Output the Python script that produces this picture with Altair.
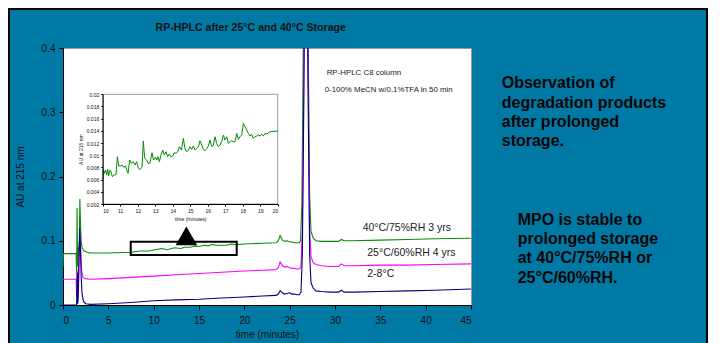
import altair as alt
import pandas as pd

# ---------------- data ----------------
series_names = ["40°C/75%RH 3 yrs", "25°C/60%RH 4 yrs", "2-8°C"]
series_colors = ["#0a8a0a", "#ff00ff", "#000080"]

green_t = [0, 0.05, 1.45, 1.5, 1.55, 1.6, 1.65, 1.7, 1.8, 1.86, 1.92, 2.0, 2.1, 2.25, 2.5, 3, 5, 7.5, 8.5, 9.5,
           10, 10.9, 11.5, 12.3, 13, 13.4, 14, 14.6, 15, 15.6, 16, 16.4, 17, 18, 18.6, 19, 20, 22, 23.5, 23.75,
           23.95, 24.2, 24.45, 24.7, 25.0, 25.25, 25.5, 25.8, 26.05, 26.2, 26.35, 26.5, 26.7, 26.9, 27.05, 27.2,
           27.35, 27.6, 27.9, 28.5, 29.5, 30.4, 30.7, 31.0, 32, 35, 38, 41, 45]
green_au = [0.06, 0.08, 0.08, 0.05, 0.151, 0.06, 0.09, 0.075, 0.1, 0.165, 0.13, 0.1, 0.09, 0.085, 0.083, 0.081,
            0.081, 0.082, 0.084, 0.084, 0.0856, 0.088, 0.086, 0.089, 0.088, 0.09, 0.09, 0.092, 0.091, 0.093,
            0.092, 0.094, 0.093, 0.093, 0.095, 0.094, 0.095, 0.096, 0.097, 0.1, 0.108, 0.101, 0.099, 0.1, 0.098,
            0.098, 0.097, 0.097, 0.097, 0.1, 0.16, 0.4, 0.6, 0.6, 0.4, 0.17, 0.115, 0.104, 0.1, 0.099, 0.099,
            0.099, 0.102, 0.1, 0.1, 0.101, 0.102, 0.103, 0.104]

magenta_t = [0, 1.45, 1.5, 1.55, 1.6, 1.65, 1.7, 1.78, 1.88, 1.95, 2.05, 2.2, 2.5, 3, 5, 7.5, 10, 12.5, 15, 17.5,
             20, 22, 23.5, 23.75, 23.95, 24.2, 24.45, 24.7, 25.0, 25.25, 25.5, 25.8, 26.05, 26.25, 26.4, 26.55,
             26.7, 26.9, 27.05, 27.2, 27.35, 27.6, 27.9, 28.5, 29.5, 30.4, 30.7, 31.0, 32, 35, 38, 41, 45]
magenta_au = [0.04, 0.04, 0.012, 0.055, 0.014, 0.05, 0.02, 0.07, 0.11, 0.085, 0.055, 0.043, 0.041, 0.04, 0.041,
              0.043, 0.045, 0.047, 0.049, 0.051, 0.053, 0.054, 0.055, 0.058, 0.067, 0.061, 0.059, 0.06, 0.058,
              0.057, 0.057, 0.056, 0.056, 0.06, 0.12, 0.34, 0.6, 0.6, 0.34, 0.12, 0.075, 0.066, 0.063, 0.061,
              0.06, 0.06, 0.064, 0.061, 0.061, 0.062, 0.062, 0.063, 0.064]

blue_t = [0, 1.5, 1.58, 1.63, 1.68, 1.75, 1.85, 1.92, 2.0, 2.1, 2.25, 2.5, 3, 5, 7.5, 10, 12.5, 15, 17.5, 20,
          22, 23.5, 23.75, 23.95, 24.2, 24.45, 24.7, 25.0, 25.25, 25.5, 25.8, 26.05, 26.25, 26.4, 26.55, 26.7,
          26.9, 27.05, 27.2, 27.35, 27.6, 27.9, 28.5, 29.5, 30.4, 30.7, 31.0, 32, 35, 38, 41, 45]
blue_au = [0, 0, 0.05, 0.002, 0.01, 0.07, 0.12, 0.09, 0.045, 0.018, 0.006, 0.002, 0.001, 0.002, 0.004, 0.0065,
           0.008, 0.009, 0.011, 0.0125, 0.014, 0.015, 0.017, 0.022, 0.019, 0.017, 0.018, 0.019, 0.017, 0.017,
           0.016, 0.016, 0.02, 0.08, 0.3, 0.6, 0.6, 0.3, 0.08, 0.035, 0.026, 0.022, 0.021, 0.02, 0.02, 0.023,
           0.02, 0.02, 0.021, 0.022, 0.023, 0.025]

# inset: 40°C/75%RH trace, 10-20 min
inset_t = [10.00, 10.04, 10.11, 10.17, 10.23, 10.29, 10.34, 10.42, 10.48, 10.55,
           10.65, 10.76, 10.84, 10.91, 11.03, 11.12, 11.20, 11.30, 11.37, 11.45,
           11.54, 11.64, 11.75, 11.85, 11.94, 12.04, 12.13, 12.25, 12.32, 12.40,
           12.51, 12.63, 12.70, 12.82, 12.90, 13.01, 13.09, 13.16, 13.24, 13.33,
           13.43, 13.52, 13.62, 13.71, 13.81, 13.90, 14.00, 14.10, 14.19, 14.29,
           14.38, 14.50, 14.61, 14.70, 14.80, 14.90, 14.99, 15.09, 15.18, 15.28,
           15.37, 15.47, 15.56, 15.66, 15.75, 15.85, 15.94, 16.04, 16.13, 16.23,
           16.32, 16.42, 16.51, 16.61, 16.70, 16.80, 16.90, 16.99, 17.09, 17.18,
           17.28, 17.37, 17.47, 17.56, 17.66, 17.75, 17.85, 17.94, 18.04, 18.13,
           18.23, 18.32, 18.42, 18.51, 18.61, 18.70, 18.80, 18.90, 18.99, 19.09,
           19.18, 19.28, 19.37, 19.47, 19.56, 20.00]
inset_au = [0.00604, 0.00768, 0.00703, 0.00757, 0.00675, 0.00768, 0.00664, 0.00757, 0.00730, 0.00648,
            0.00675, 0.00686, 0.00976, 0.00823, 0.00823, 0.00839, 0.00801, 0.00828, 0.00757, 0.00703,
            0.00921, 0.00867, 0.00894, 0.00839, 0.00894, 0.00785, 0.00768, 0.00801, 0.01233, 0.00949,
            0.00921, 0.00856, 0.00878, 0.01041, 0.00921, 0.00965, 0.00921, 0.00976, 0.00894, 0.01003,
            0.01085, 0.01003, 0.01058, 0.00976, 0.01020, 0.00976, 0.00987, 0.01041, 0.01031, 0.01058,
            0.01140, 0.01085, 0.01276, 0.01112, 0.01058, 0.01085, 0.01140, 0.01096, 0.01151, 0.01085,
            0.01112, 0.01140, 0.01238, 0.01167, 0.01096, 0.01074, 0.01107, 0.01151, 0.01249, 0.01140,
            0.01162, 0.01304, 0.01194, 0.01140, 0.01167, 0.01222, 0.01331, 0.01249, 0.01304, 0.01194,
            0.01222, 0.01238, 0.01222, 0.01222, 0.01358, 0.01260, 0.01304, 0.01331, 0.01522, 0.01468,
            0.01413, 0.01358, 0.01315, 0.01347, 0.01276, 0.01304, 0.01315, 0.01331, 0.01315, 0.01347,
            0.01315, 0.01358, 0.01347, 0.01369, 0.01386, 0.01397]

x_ticks = [0, 5, 10, 15, 20, 25, 30, 35, 40, 45]
y_ticks = [0, 0.05, 0.1, 0.15, 0.2, 0.25, 0.3, 0.35, 0.4]
inset_x_ticks = [10, 11, 12, 13, 14, 15, 16, 17, 18, 19, 20]
inset_y_ticks = [0.002, 0.004, 0.006, 0.008, 0.01, 0.012, 0.014, 0.016, 0.018, 0.02]

title_text = "RP-HPLC after 25°C and 40°C Storage"
method_lines = ["RP-HPLC C8 column", "0-100% MeCN w/0.1%TFA in 50 min"]
note1 = ["Observation of", "degradation products", "after prolonged", "storage."]
note2 = ["MPO is stable to", "prolonged storage", "at 40°C/75%RH or", "25°C/60%RH."]

# ---------------- tables ----------------
rows = []
for name, ts, vs in zip(series_names, [green_t, magenta_t, blue_t], [green_au, magenta_au, blue_au]):
    for t, v in zip(ts, vs):
        rows.append({"series": name, "time": t, "au": v})
traces = pd.DataFrame(rows)
inset_df = pd.DataFrame({"t": inset_t, "au": inset_au})
one = pd.DataFrame({"k": [0]})   # single row for annotations

FONT = "Liberation Sans"
W, H = 408, 257

xs = alt.Scale(domain=[0, 45], nice=False, zero=False)
ys = alt.Scale(domain=[0, 0.4], nice=False, zero=False)

x_axis = alt.Axis(values=x_ticks, title="time (minutes)", labelPadding=6, titlePadding=4,
                  tickSize=4, labelFontSize=10, titleFontSize=10)
y_axis = alt.Axis(values=y_ticks, format="~g", title="AU at 215 nm", labelPadding=4, titlePadding=16,
                  tickSize=4, labelFontSize=10, titleFontSize=10)

lines = alt.Chart(traces).mark_line(clip=True, strokeWidth=1.1).encode(
    x=alt.X("time:Q", scale=xs, axis=x_axis),
    y=alt.Y("au:Q", scale=ys, axis=y_axis),
    color=alt.Color("series:N", scale=alt.Scale(domain=series_names, range=series_colors), legend=None),
)

base = alt.Chart(one)

box = base.mark_rect(filled=False, stroke="black", strokeWidth=2).encode(
    x=alt.datum(7.47, scale=xs), x2=alt.datum(19.16),
    y=alt.datum(0.0778, scale=ys), y2=alt.datum(0.0985),
)
arrow = base.mark_point(shape="triangle-up", filled=True, color="black", size=470, opacity=1).encode(
    x=alt.datum(13.61, scale=xs), y=alt.datum(0.1075, scale=ys),
)

label_layers = []
for txt, t, v in zip(series_names, [33.05, 33.56, 33.56], [0.1198, 0.0805, 0.0482]):
    label_layers.append(
        base.mark_text(align="left", baseline="middle", font=FONT, fontSize=10.5, color="#222").encode(
            x=alt.datum(t, scale=xs), y=alt.datum(v, scale=ys), text=alt.value(txt)))
for txt, t, v in zip(method_lines, [29.08, 28.86], [0.361, 0.3346]):
    label_layers.append(
        base.mark_text(align="left", baseline="middle", font=FONT, fontSize=7.9, color="#222").encode(
            x=alt.datum(t, scale=xs), y=alt.datum(v, scale=ys), text=alt.value(txt)))

title_mark = base.mark_text(align="center", baseline="middle", font=FONT, fontSize=10.6, fontWeight="bold",
                            color="#111", clip=False).encode(
    x=alt.datum(20.71, scale=xs), y=alt.datum(0.4307, scale=ys), text=alt.value(title_text))

notes = []
for lines_txt, t, v in zip([note1, note2], [48.39, 50.15], [0.3575, 0.1454]):
    notes.append(
        base.mark_text(align="left", baseline="top", font=FONT, fontSize=16, fontWeight="bold",
                       color="#050505", lineHeight=19.4, clip=False).encode(
            x=alt.datum(t, scale=xs), y=alt.datum(v, scale=ys), text=alt.value(lines_txt)))

frame = base.mark_rect(filled=False, stroke="black", strokeWidth=2).encode(
    x=alt.value(-54), x2=alt.value(644), y=alt.value(-39), y2=alt.value(300))

main = alt.layer(lines, box, arrow, *label_layers, title_mark, *notes, frame)

# ---------------- inset ----------------
ixs = alt.Scale(domain=[10, 20], range=[39.7, 214.7], nice=False, zero=False)
iys = alt.Scale(domain=[0.002, 0.02], range=[156, 46.3], nice=False, zero=False)
ix_axis = alt.Axis(orient="bottom", offset=-101, values=inset_x_ticks, title="time (minutes)",
                   labelFontSize=5, titleFontSize=5, tickSize=2, labelPadding=2, titlePadding=3, zindex=2)
iy_axis = alt.Axis(orient="left", offset=-39.7, values=inset_y_ticks, format="~g", title="AU at 215 nm",
                   labelFontSize=5, titleFontSize=5, tickSize=2, labelPadding=2, titlePadding=3, zindex=2)

inset_frame = alt.Chart(one).mark_rect(filled=False, stroke="#999999", strokeWidth=1).encode(
    x=alt.datum(10, scale=ixs, axis=ix_axis), x2=alt.datum(20),
    y=alt.datum(0.002, scale=iys, axis=iy_axis), y2=alt.datum(0.02),
)
inset_line = alt.Chart(inset_df).mark_line(color="#0a8a0a", strokeWidth=1).encode(
    x=alt.X("t:Q", scale=ixs, axis=ix_axis),
    y=alt.Y("au:Q", scale=iys, axis=iy_axis),
)
inset = alt.layer(inset_frame, inset_line)

chart = alt.layer(main, inset).resolve_scale(x="independent", y="independent").properties(
    width=W, height=H,
    autosize=alt.AutoSizeParams(type="none"),
    padding={"left": 55, "top": 40, "right": 237, "bottom": 38},
    background="#0079a5",
).configure_view(
    fill="white", stroke="#999999", strokeWidth=1
).configure_axis(
    grid=False, labelFont=FONT, titleFont=FONT, labelColor="#111", titleColor="#111",
    titleFontWeight="normal", domainColor="black", tickColor="black", domainWidth=1, tickWidth=1,
)

chart.save("out.html", embed_options={"renderer": "svg", "actions": False})
